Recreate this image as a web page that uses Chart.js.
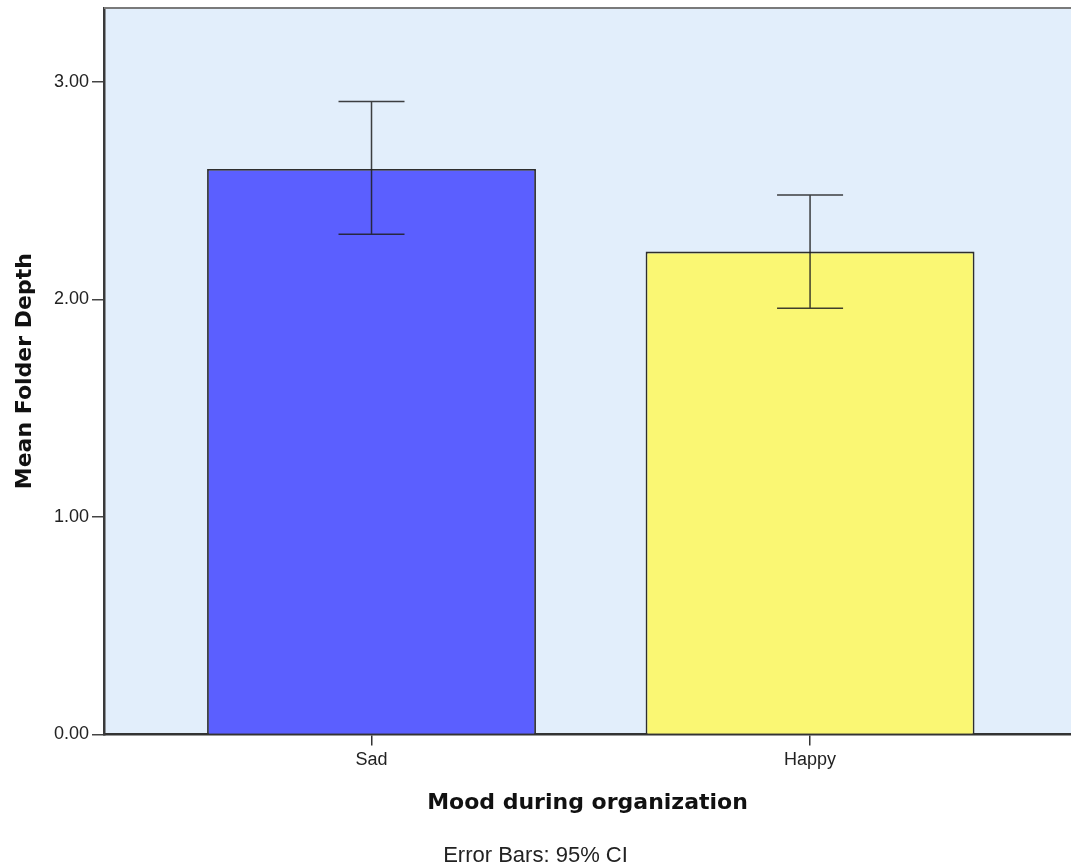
<!DOCTYPE html>
<html>
<head>
<meta charset="utf-8">
<title>Mean Folder Depth by Mood</title>
<script src="https://cdn.jsdelivr.net/npm/chart.js@4/dist/chart.umd.min.js"></script>
<style>
  html, body { margin: 0; padding: 0; background: #fff; }
  #wrap { width: 1071px; height: 865px; }
</style>
</head>
<body>
<div id="wrap"><canvas id="chart"></canvas></div>
<script>
// data
const categories = ["Sad", "Happy"];
const means      = [2.60, 2.22];
const ciLow      = [2.30, 1.96];
const ciHigh     = [2.91, 2.48];
const yTicks     = [0, 1, 2, 3];
const barColors  = ["#5b5fff", "#faf773"];

// plot background (drawn before the axes) + top frame line
const frame = {
  id: "frame",
  beforeDraw(chart){
    const {ctx, chartArea: a} = chart;
    ctx.save();
    ctx.fillStyle = "#e2eefb";
    ctx.fillRect(a.left, a.top, a.right - a.left, a.bottom - a.top);
    ctx.restore();
  },
  afterDraw(chart){
    const {ctx, chartArea: a} = chart;
    ctx.save();
    ctx.strokeStyle = "#7a7a7a";
    ctx.lineWidth = 2;
    ctx.beginPath();
    ctx.moveTo(a.left, a.top);
    ctx.lineTo(a.right, a.top);
    ctx.stroke();
    ctx.restore();
  }
};

// 95% CI whiskers
const errorBars = {
  id: "errorBars",
  afterDatasetsDraw(chart){
    const {ctx, scales: {x, y}} = chart;
    ctx.save();
    ctx.strokeStyle = "rgba(30,30,30,0.85)";
    ctx.lineWidth = 1.5;
    categories.forEach((c, i) => {
      const px = x.getPixelForValue(i);
      const hi = y.getPixelForValue(ciHigh[i]);
      const lo = y.getPixelForValue(ciLow[i]);
      ctx.beginPath();
      ctx.moveTo(px, hi); ctx.lineTo(px, lo);
      ctx.moveTo(px - 33, hi); ctx.lineTo(px + 33, hi);
      ctx.moveTo(px - 33, lo); ctx.lineTo(px + 33, lo);
      ctx.stroke();
    });
    ctx.restore();
  }
};

new Chart(document.getElementById("chart"), {
  type: "bar",
  data: {
    datasets: [{
      data: means.map((m, i) => ({x: i, y: m})),
      backgroundColor: barColors,
      borderColor: "#2e2e2e",
      borderWidth: 1.8,
      categoryPercentage: 1,
      barPercentage: 0.75
    }]
  },
  options: {
    responsive: true,
    maintainAspectRatio: false,
    animation: false,
    layout: { padding: { top: 8, right: 0, left: 0, bottom: 0 } },
    plugins: {
      legend: { display: false },
      tooltip: { enabled: false },
      title: {
        display: true,
        position: "bottom",
        text: "Error Bars: 95% CI",
        color: "#222",
        font: { family: "Liberation Sans", size: 22, weight: "normal", lineHeight: 0.8 },
        padding: { top: 12, bottom: 0 }
      }
    },
    scales: {
      x: {
        type: "linear",
        offset: false,
        min: -0.61,
        max: 1.595,
        afterBuildTicks: s => { s.ticks = categories.map((c, i) => ({value: i})); },
        afterFit: s => { s.height = 101; s.paddingLeft = 0; s.paddingRight = 0; },
        ticks: {
          callback: v => categories[v],
          color: "#222",
          font: { family: "Liberation Sans", size: 18 },
          padding: 4,
          maxRotation: 0
        },
        grid: { offset: false, drawOnChartArea: false, tickLength: 11, color: "#333", lineWidth: 1.5 },
        border: { color: "#333", width: 2.5 },
        title: {
          display: true,
          text: "Mood during organization",
          color: "#111",
          font: { family: "DejaVu Sans", size: 22, weight: "bold" },
          padding: { top: 0, bottom: 19 }
        }
      },
      y: {
        min: 0,
        max: 3.34,
        afterBuildTicks: s => { s.ticks = yTicks.map(v => ({value: v})); },
        afterFit: s => { s.width = 104; s.paddingTop = 0; s.paddingBottom = 0; },
        ticks: {
          callback: v => v.toFixed(2),
          color: "#222",
          font: { family: "Liberation Sans", size: 18 },
          padding: 3
        },
        grid: { drawOnChartArea: false, tickLength: 12, color: "#444", lineWidth: 1.5 },
        border: { color: "#3a3a3a", width: 2.5 },
        title: {
          display: true,
          text: "Mean Folder Depth",
          color: "#111",
          font: { family: "DejaVu Sans", size: 22, weight: "bold" },
          padding: { top: 12, bottom: 0 }
        }
      }
    }
  },
  plugins: [frame, errorBars]
});
</script>
</body>
</html>
